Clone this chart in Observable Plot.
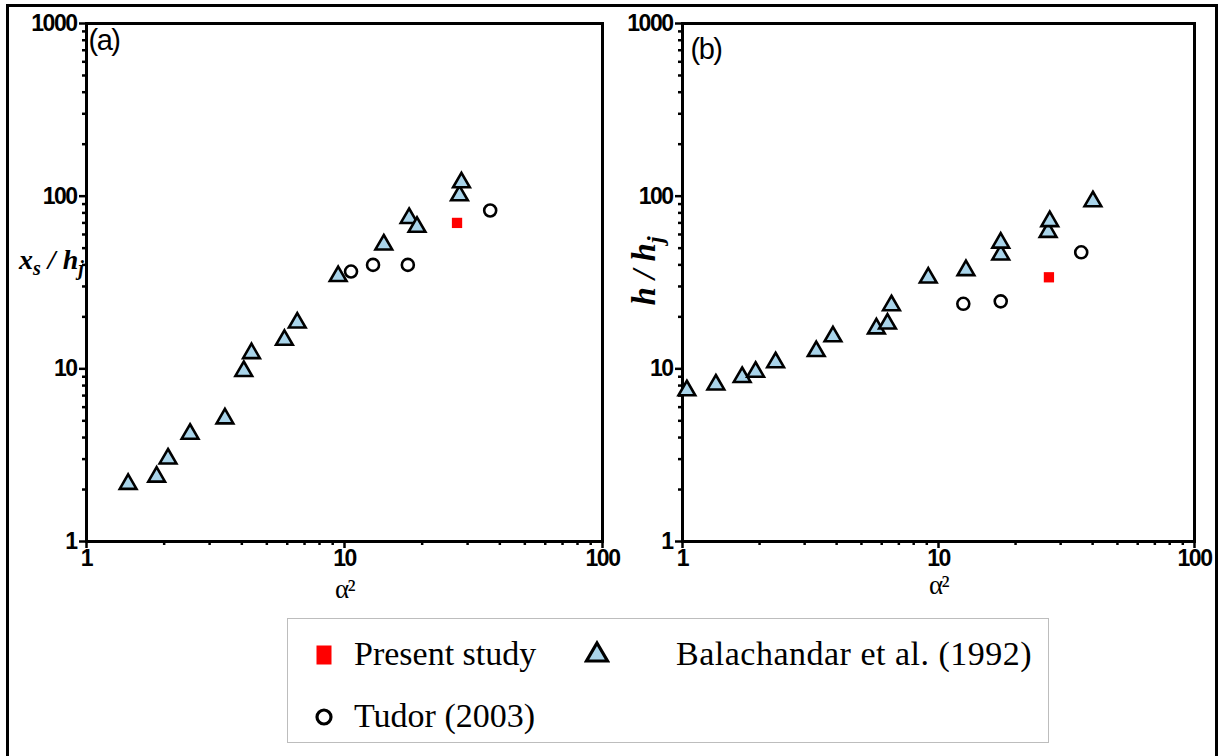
<!DOCTYPE html>
<html><head><meta charset="utf-8">
<script src="https://cdn.jsdelivr.net/npm/d3@7"></script>
<script src="https://cdn.jsdelivr.net/npm/@observablehq/plot@0.6"></script>
<style>
html,body{margin:0;padding:0;background:#fff;width:1227px;height:756px;overflow:hidden;position:relative}
#pa,#pb{position:absolute;top:0}
#pa{left:0}
#pb{left:620px}
#frame{position:absolute;left:6px;top:4px;width:1206px;height:800px;border:3px solid #000;pointer-events:none}
.ytitle{position:absolute;font-family:"Liberation Serif",serif;font-weight:bold;font-style:italic;white-space:nowrap;line-height:1}
.ytitle sub{font-size:72%;vertical-align:-0.32em}
#legend{position:absolute;left:287px;top:618px;width:760px;height:123px;border:1.5px solid #bdbdbd}
.ltext{position:absolute;font-family:"Liberation Serif",serif;font-size:34px;line-height:34px;white-space:nowrap;color:#000}
.lsym{position:absolute}
</style>
</head><body>
<div id="pa"></div>
<div id="pb"></div>
<div class="ytitle" id="ya" style="left:19px;top:246px;font-size:28px">x<sub>s</sub> / h<sub>j</sub></div>
<div class="ytitle" id="yb" style="left:648px;top:271px;font-size:33px;transform:translate(-50%,-50%) rotate(-90deg);transform-origin:center">h / h<sub>j</sub></div>
<div id="legend"></div>
<svg class="lsym" style="left:316px;top:645px" width="16" height="20"><rect x="0.5" y="0.5" width="15" height="19" fill="#ff0000"/></svg>
<div class="ltext" style="left:354px;top:637px">Present study</div>
<svg class="lsym" style="left:584px;top:640px" width="26" height="24"><polygon points="13,3 23.5,21 2.5,21" fill="#a9d4ea" stroke="#000" stroke-width="3.2" stroke-linejoin="miter"/></svg>
<div class="ltext" style="left:676px;top:637px;letter-spacing:0.5px">Balachandar et al. (1992)</div>
<svg class="lsym" style="left:314px;top:707px" width="20" height="20"><circle cx="10" cy="10" r="7" fill="#fff" stroke="#000" stroke-width="3.2"/></svg>
<div class="ltext" style="left:354px;top:699px">Tudor (2003)</div>
<div id="frame"></div>
<script>
// ---- tick values ----
const xMajor = [1, 10, 100];
const yMajor = [1, 10, 100, 1000];
const xMinor = [2,3,4,5,6,7,8,9,20,30,40,50,60,70,80,90];
const yMinor = [2,3,4,5,6,7,8,9,20,30,40,50,60,70,80,90,200,300,400,500,600,700,800,900];

// ---- panel (a): x_s/h_j vs alpha^2 ----
const aBalX = [1.45, 1.87, 2.07, 2.52, 3.44, 4.07, 4.36, 5.85, 6.56, 9.45, 14.2, 17.8, 19.1, 27.9, 28.4];
const aBalY = [2.15, 2.37, 3.02, 4.2, 5.15, 9.7, 12.3, 14.7, 18.5, 34.4, 52.4, 74.6, 66.3, 101, 120];
const aTudX = [10.6, 12.9, 17.6, 36.7];
const aTudY = [36.6, 40, 40, 82.6];
const aPreX = [27.3];
const aPreY = [70];

// ---- panel (b): h/h_j vs alpha^2 ----
const bBalX = [1.04, 1.35, 1.71, 1.93, 2.31, 3.33, 3.87, 5.72, 6.32, 6.55, 9.12, 12.8, 17.5, 17.5, 26.8, 27.2, 40.1];
const bBalY = [7.5, 8.1, 8.95, 9.6, 10.9, 12.65, 15.4, 17.1, 18.25, 23.3, 33.7, 37.2, 45.8, 53.7, 62, 71.5, 93.3];
const bTudX = [12.5, 17.5, 36.1];
const bTudY = [23.8, 24.6, 47.3];
const bPreX = [27.0];
const bPreY = [33.9];

const zip = (xs, ys) => xs.map((x, i) => ({x, y: ys[i]}));

function panel(o) {
  return Plot.plot({
    width: o.width, height: 620,
    marginTop: 23, marginBottom: 79, marginLeft: o.ml, marginRight: o.mr,
    x: {type: "log", domain: [1, 100]},
    y: {type: "log", domain: [1, 1000]},
    style: {background: "transparent", fontFamily: "'Liberation Sans', Arial, sans-serif", fontSize: "23px", fontWeight: "bold", letterSpacing: "-1.5px", color: "#000", overflow: "visible"},
    marks: [
      Plot.axisX({ticks: xMajor, tickSize: 7, tickPadding: 1, tickFormat: d => String(d), fontSize: 23, strokeWidth: 2.5, label: null}),
      Plot.axisX({ticks: xMinor, tickSize: 4, tickFormat: () => "", strokeWidth: 2.5, label: null}),
      Plot.axisY({ticks: yMajor, tickSize: 7, tickPadding: 3, tickFormat: d => String(d), fontSize: 23, strokeWidth: 2.5, label: null}),
      Plot.axisY({ticks: yMinor, tickSize: 4, tickFormat: () => "", strokeWidth: 2.5, label: null}),
      Plot.frame({stroke: "#000", strokeWidth: 3}),
      Plot.dot(zip(o.balX, o.balY), {x: "x", y: "y", symbol: "triangle", r: 6.2, fill: "#a9d4ea", stroke: "#000", strokeWidth: 2.6}),
      Plot.dot(zip(o.tudX, o.tudY), {x: "x", y: "y", symbol: "circle", r: 6, fill: "#fff", stroke: "#000", strokeWidth: 2.6}),
      Plot.dot(zip(o.preX, o.preY), {x: "x", y: "y", symbol: "square", r: 5.8, fill: "#ff0000"}),
      Plot.text([o.tag], {frameAnchor: "top-left", textAnchor: "start", lineAnchor: "middle", dx: o.tagDx, dy: o.tagDy, fontSize: 29, fontWeight: "normal", letterSpacing: "0px"}),
      Plot.text(["α²"], {frameAnchor: "bottom", lineAnchor: "middle", dy: o.xlDy, fontFamily: "'Liberation Serif', serif", fontWeight: "normal", fontSize: 27, letterSpacing: "0px"})
    ]
  });
}

document.getElementById("pa").append(panel({
  width: 620, ml: 86, mr: 18, balX: aBalX, balY: aBalY, tudX: aTudX, tudY: aTudY, preX: aPreX, preY: aPreY,
  tag: "(a)", tagDx: 2, tagDy: 17, xlDy: 48
}));
document.getElementById("pb").append(panel({
  width: 607, ml: 62, mr: 33, balX: bBalX, balY: bBalY, tudX: bTudX, tudY: bTudY, preX: bPreX, preY: bPreY,
  tag: "(b)", tagDx: 8, tagDy: 26, xlDy: 44
}));
</script>
</body></html>
